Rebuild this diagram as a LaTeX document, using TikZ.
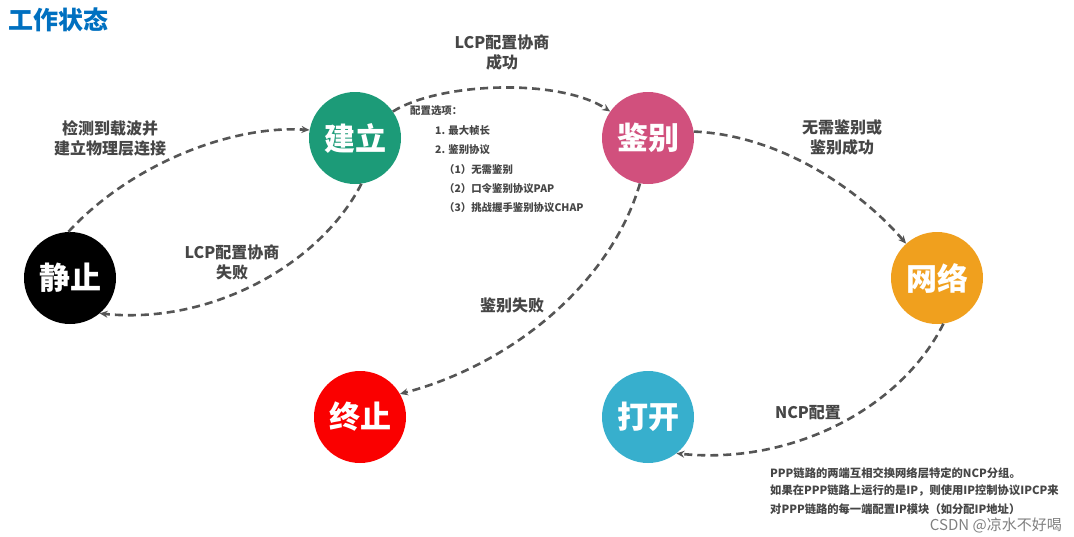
\documentclass[tikz,border=0pt]{standalone}
\usepackage{fontspec}
\setmainfont{Noto Sans CJK SC}
\usetikzlibrary{arrows.meta}
\definecolor{titleblue}{RGB}{0,112,192}
\definecolor{cgreen}{RGB}{28,155,120}
\definecolor{cpink}{RGB}{209,80,125}
\definecolor{corange}{RGB}{240,160,30}
\definecolor{cred}{RGB}{250,0,0}
\definecolor{cteal}{RGB}{55,175,205}
\definecolor{linegray}{RGB}{85,85,85}
\definecolor{labelgray}{RGB}{70,70,70}
\begin{document}
\begin{tikzpicture}[x=1pt,y=-1pt,
  state/.style={circle,minimum size=92pt,inner sep=0pt,text=white,font=\fontsize{31}{36}\selectfont\bfseries},
  conn/.style={draw=linegray,line width=2.6pt,dash pattern=on 8pt off 5pt,-{Stealth[length=8pt,width=7pt]}},
  lbl/.style={text=labelgray,align=center,font=\fontsize{16}{20}\selectfont\bfseries},
  small/.style={text=labelgray,anchor=west,inner sep=0pt,font=\fontsize{10.4}{12}\selectfont\bfseries},
  note/.style={text=labelgray,anchor=west,inner sep=0pt,font=\fontsize{11.3}{14}\selectfont\bfseries}]
\useasboundingbox (0,0) rectangle (1074,536);
\node[text=titleblue,anchor=west,inner sep=0pt,font=\fontsize{25}{28}\selectfont\bfseries] (title) at (8,20) {工作状态};
\node[state,fill=black] (jz) at (70,278) {静止};
\node[state,fill=cgreen] (jl) at (355,138) {建立};
\node[state,fill=cpink] (jb) at (648,138) {鉴别};
\node[state,fill=corange] (wl) at (937,278) {网络};
\node[state,fill=cred] (zz) at (360,417) {终止};
\node[state,fill=cteal] (dk) at (648,417) {打开};
% connectors
\draw[conn] (jz.92) .. controls (130,165) and (230,125) .. (jl.170);
\draw[conn] (jl.-82) .. controls (320,265) and (210,325) .. (jz.-50);
\draw[conn] (jl.35) .. controls (440,82) and (560,78) .. (jb.145);
\draw[conn] (jb.8) .. controls (780,135) and (860,190) .. (wl.132);
\draw[conn] (jb.-100) .. controls (610,285) and (510,365) .. (zz.30);
\draw[conn] (wl.-82) .. controls (900,410) and (790,465) .. (dk.-52);
% labels
\node[lbl] (l1) at (110,138) {检测到载波并\\建立物理层连接};
\node[lbl] (l2) at (232,262) {LCP配置协商\\失败};
\node[lbl] (l3) at (502,52) {LCP配置协商\\成功};
\node[lbl] (l4) at (842,137) {无需鉴别或\\鉴别成功};
\node[lbl] (l5) at (512,305) {鉴别失败};
\node[lbl] (l6) at (808,413) {NCP配置};
% options
\node[small] (o1) at (410,111) {配置选项：};
\node[small] (o2) at (435,131) {1. 最大帧长};
\node[small] (o3) at (435,150) {2. 鉴别协议};
\node[small] (o4) at (444,170) {（1）无需鉴别};
\node[small] (o5) at (444,189) {（2）口令鉴别协议PAP};
\node[small] (o6) at (444,208) {（3）挑战握手鉴别协议CHAP};
% note
\node[note] (n1) at (770,473) {PPP链路的两端互相交换网络层特定的NCP分组。};
\node[note] (n2) at (770,491) {如果在PPP链路上运行的是IP，则使用IP控制协议IPCP来};
\node[note] (n3) at (770,509) {对PPP链路的每一端配置IP模块（如分配IP地址）};
\node[text=gray,anchor=east,inner sep=0pt,font=\fontsize{15}{18}\selectfont] (wm) at (1062,525) {CSDN @凉水不好喝};
\end{tikzpicture}
\end{document}
